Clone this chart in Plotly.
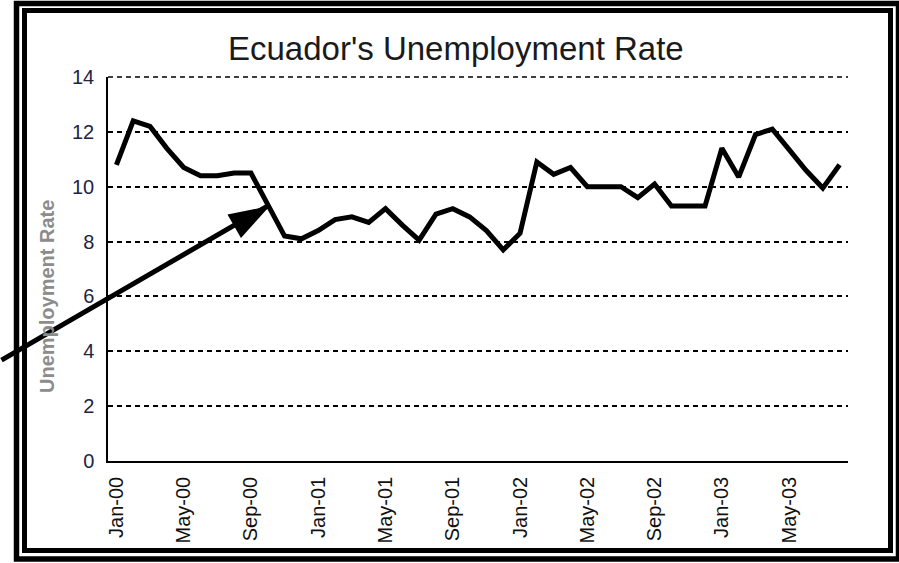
import math
import plotly.graph_objects as go

# Monthly unemployment rate, Jan-2000 .. Aug-2003 (percent)
month_names = ["Jan", "Feb", "Mar", "Apr", "May", "Jun",
               "Jul", "Aug", "Sep", "Oct", "Nov", "Dec"]
months = [f"{m}-{y:02d}" for y in range(0, 4) for m in month_names][:44]

rate = [10.8, 12.4, 12.2, 11.4, 10.7, 10.4, 10.4, 10.5, 10.5, 9.3,
        8.2, 8.1, 8.4, 8.8, 8.9, 8.7, 9.2, 8.6, 8.05, 9.0,
        9.2, 8.9, 8.4, 7.7, 8.3, 10.9, 10.45, 10.7, 10.0, 10.0,
        10.0, 9.6, 10.1, 9.3, 9.3, 9.3, 11.4, 10.35, 11.9, 12.1,
        11.35, 10.6, 9.95, 10.8]

tick_months = months[::4]
y_ticks = [0, 2, 4, 6, 8, 10, 12, 14]
highlight = 9  # Sep-00, pointed at by the arrow

W, H = 899, 563
L, R, T, B = 108, 51, 77, 102
FONT = "Liberation Sans, Arial, sans-serif"
GRID = dict(color="black", width=1.6, dash="5px,4px")


def px_x(px):
    return (px - L) / (W - L - R)


def px_y(py):
    return (H - B - py) / (H - T - B)


fig = go.Figure()
fig.add_trace(go.Scatter(
    x=months, y=rate, mode="lines",
    line=dict(color="black", width=5),
    hoverinfo="x+y", showlegend=False,
))

# double picture frame
frames = [(16.5, 3.5, 898.5, 559.0, 5.5), (24.5, 10.5, 890.5, 550.5, 5.0)]
shapes = []
for x0, y0, x1, y1, w in frames:
    shapes.append(dict(type="rect", xref="paper", yref="paper",
                       x0=px_x(x0), x1=px_x(x1), y0=px_y(y1), y1=px_y(y0),
                       line=dict(color="black", width=w), fillcolor="rgba(0,0,0,0)",
                       layer="below"))

# dashed gridline along the top edge of the plot (unclipped, full width)
shapes.append(dict(type="line", xref="x domain", yref="y domain",
                   x0=0, x1=1, y0=1, y1=1,
                   line=GRID, layer="below"))

# arrow: shaft via annotation, head as a filled triangle anchored at the point
tail_dx, tail_dy = -270, 155          # tail offset from tip, screen pixels
head_len, head_half = 41, 13.5
ux, uy = -tail_dx, tail_dy            # tip direction in y-up pixels
n = math.hypot(ux, uy)
ux, uy = ux / n, uy / n
tipx, tipy = 2.0, 0.0
bx, by = tipx - head_len * ux, tipy - head_len * uy
c1 = (bx - head_half * uy, by + head_half * ux)
c2 = (bx + head_half * uy, by - head_half * ux)
shapes.append(dict(
    type="path", xref="x", yref="y", xsizemode="pixel", ysizemode="pixel",
    xanchor=highlight, yanchor=rate[highlight],
    path=f"M{tipx},{tipy} L{c1[0]:.1f},{c1[1]:.1f} L{c2[0]:.1f},{c2[1]:.1f} Z",
    fillcolor="black", line=dict(width=0), layer="above",
))

annotations = [
    dict(x=months[highlight], y=rate[highlight], xref="x", yref="y",
         text="", showarrow=True, arrowhead=0, arrowwidth=5,
         arrowcolor="black", ax=tail_dx, ay=tail_dy, standoff=0),
    dict(x=px_x(455.5), y=px_y(49), xref="paper", yref="paper",
         text="Ecuador's Unemployment Rate", showarrow=False,
         xanchor="center", yanchor="middle",
         font=dict(family=FONT, size=33, color="#1a1a1a")),
    dict(x=px_x(47), y=px_y(297), xref="paper", yref="paper",
         text="Unemployment Rate", showarrow=False, textangle=-90,
         xanchor="center", yanchor="middle",
         font=dict(family=FONT, size=20, color="#8c8c8c", weight=700)),
]

fig.update_layout(
    width=W, height=H,
    margin=dict(l=L, r=R, t=T, b=B),
    paper_bgcolor="white", plot_bgcolor="white",
    shapes=shapes, annotations=annotations,
    showlegend=False,
    xaxis=dict(
        type="category", range=[-0.5, len(months) - 0.5],
        tickmode="array", tickvals=tick_months, ticktext=tick_months,
        tickangle=-90, ticks="", showgrid=False, zeroline=False,
        showline=True, linecolor="black", linewidth=1.5,
        ticklabelstandoff=6,
        tickfont=dict(family=FONT, size=20, color="#111111"),
    ),
    yaxis=dict(
        range=[0, 14], tickmode="array", tickvals=y_ticks,
        ticks="", showline=True, linecolor="black", linewidth=1.5,
        showgrid=True, gridcolor=GRID["color"], gridwidth=GRID["width"],
        griddash=GRID["dash"],
        zeroline=False, ticklabelstandoff=8,
        tickfont=dict(family=FONT, size=20, color="#23233f"),
    ),
)

fig.write_html("out.html")
